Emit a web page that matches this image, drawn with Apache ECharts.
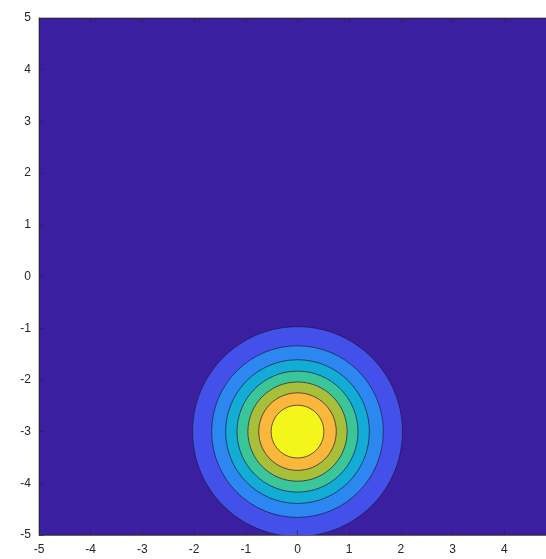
<!DOCTYPE html>
<html>
<head>
<meta charset="utf-8">
<script src="https://cdn.jsdelivr.net/npm/echarts@6/dist/echarts.min.js"></script>
<style>
  html, body { margin: 0; padding: 0; background: #ffffff; }
  #chart { width: 546px; height: 559px; }
</style>
</head>
<body>
<div id="chart"></div>
<script>
// Filled contours of a Gaussian bump centred at (0, -3).
const center = [0, -3];
// Contour levels (low to high) and the radius of each contour line in axis units
const levels = [0.125, 0.25, 0.375, 0.5, 0.625, 0.75, 0.875];
const radii = [2.03, 1.66, 1.39, 1.17, 0.96, 0.75, 0.51];
// One fill colour per band: below the first level, then above each level
const bandColors = ['#3a20a0', '#4350ea', '#2c88f0', '#12acd4', '#3bc69a', '#a8bf3a', '#fbb73b', '#f4f51a'];
const xTicks = [-5, -4, -3, -2, -1, 0, 1, 2, 3, 4, 5];
const yTicks = [-5, -4, -3, -2, -1, 0, 1, 2, 3, 4, 5];

const contourData = levels.map((lv, i) => [center[0], center[1], radii[i], lv, i]);

const chart = echarts.init(document.getElementById('chart'), null, { renderer: 'canvas' });

const tickFont = { color: '#262626', fontSize: 12, fontFamily: 'Liberation Sans, Arial, sans-serif' };
const lineStyle = { color: '#262626', width: 0.6 };

function valueAxis(ticks, position, showLabels, margin) {
  return {
    type: 'value',
    min: ticks[0], max: ticks[ticks.length - 1], interval: 1,
    position: position,
    z: 5,
    axisLine: { show: true, onZero: false, lineStyle: lineStyle },
    axisTick: { show: true, inside: true, length: 5, lineStyle: lineStyle },
    axisLabel: showLabels ? Object.assign({ margin: margin }, tickFont) : { show: false },
    splitLine: { show: false }
  };
}

chart.setOption({
  animation: false,
  backgroundColor: '#ffffff',
  grid: {
    left: 39, top: 18, width: 517, height: 517,
    outerBoundsMode: 'none',
    containLabel: false,
    show: true,
    backgroundColor: bandColors[0],
    borderColor: '#262626',
    borderWidth: 0.6
  },
  xAxis: [valueAxis(xTicks, 'bottom', true, 9), valueAxis(xTicks, 'top', false, 0)],
  yAxis: [valueAxis(yTicks, 'left', true, 8)],
  series: [{
    type: 'custom',
    xAxisIndex: 0,
    yAxisIndex: 0,
    data: contourData,
    encode: { x: 0, y: 1 },
    renderItem: function (params, api) {
      const c = api.coord([api.value(0), api.value(1)]);
      const r = api.value(2);
      const size = api.size([r, r]);
      const idx = api.value(4);
      const cs = params.coordSys;
      return {
        type: 'group',
        clipPath: { type: 'rect', shape: { x: cs.x, y: cs.y, width: cs.width, height: cs.height } },
        children: [{
          type: 'ellipse',
          shape: { cx: c[0], cy: c[1], rx: size[0], ry: size[1] },
          style: { fill: bandColors[idx + 1], stroke: '#1c1840', lineWidth: 0.7 }
        }]
      };
    }
  }]
});
</script>
</body>
</html>
